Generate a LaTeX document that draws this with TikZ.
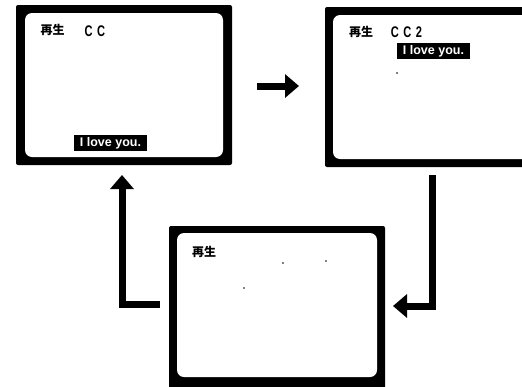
\documentclass[tikz,border=0pt]{standalone}
\usepackage{fontspec}
\setmainfont{Liberation Sans}
\newfontfamily\cjkfont{Noto Sans CJK JP}
\newfontfamily\ccfont[FakeStretch=0.72]{Liberation Sans}
\usetikzlibrary{arrows.meta}
\tikzset{
  tvouter/.style={fill=black, rounded corners=2pt},
  tvinner/.style={fill=white, rounded corners=7pt},
  playlabel/.style={font=\cjkfont\bfseries\fontsize{12}{12}\selectfont, inner sep=0pt},
  cclabel/.style={font=\ccfont\bfseries\fontsize{15.4}{16}\selectfont, inner sep=0pt},
  caption/.style={fill=black, text=white, font=\bfseries\fontsize{12.5}{13}\selectfont,
     minimum width=73pt, minimum height=16pt, inner sep=0pt},
  speck/.style={fill=black, circle, inner sep=0pt, minimum size=1.6pt},
  flow/.style={line width=7pt, -{Triangle[length=14pt,width=23pt]}},
}
\begin{document}
\begin{tikzpicture}[x=1pt,y=-1pt]
\useasboundingbox (0,0) rectangle (522,386);
\clip (0,0) rectangle (522,386);
% TV 1
\fill[tvouter] (16,5) rectangle (232,165);
\fill[tvinner] (25,13) rectangle (223,157);
\node[playlabel] (p1) at (52.5,30) {再生};
\node[cclabel] (c1) at (95,31) {C\hspace{4.5pt}C};
\node[caption] (s1) at (110.5,143) {I love you.};
% TV 2
\fill[tvouter] (325,7) rectangle (541,167);
\fill[tvinner] (333,15) rectangle (532,159);
\node[playlabel] (p2) at (361,32) {再生};
\node[cclabel] (c2) at (406.5,32) {C\hspace{4.5pt}C\hspace{4.5pt}2};
\node[caption] (s2) at (433.5,51) {I love you.};
\node[speck] (d0) at (397,73) {};
% TV 3
\fill[tvouter] (169,226) rectangle (385,392);
\fill[tvinner] (177,233) rectangle (377,377);
\node[playlabel] (p3) at (204,252) {再生};
\node[speck] (d1) at (283,263) {};
\node[speck] (d2) at (326,261) {};
\node[speck] (d3) at (244,288) {};
% arrows
\coordinate (a1s) at (257,86);
\coordinate (a1e) at (299,86);
\draw[flow] (a1s) -- (a1e);
\coordinate (a2s) at (432,175);
\coordinate (a2e) at (393,306);
\draw[flow] (a2s) |- (a2e);
\coordinate (a3s) at (160,304);
\coordinate (a3e) at (122,175);
\draw[flow] (a3s) -| (a3e);
\end{tikzpicture}
\end{document}
